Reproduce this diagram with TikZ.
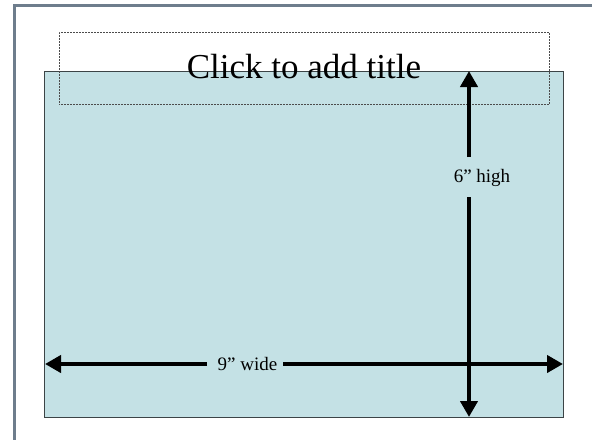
\documentclass[tikz,border=0pt]{standalone}
\usepackage{fontspec}
\setmainfont{Liberation Serif}
\usetikzlibrary{arrows.meta}
\definecolor{framegray}{HTML}{6E7D8C}
\definecolor{slidefill}{HTML}{C4E1E5}
\definecolor{slideedge}{HTML}{3C4446}
\tikzset{
  dimarrow/.style={line width=4pt,-{Triangle[width=17pt,length=16pt]}},
  dimlabel/.style={font=\fontsize{19}{21}\selectfont,inner sep=0pt},
}
\begin{document}
\begin{tikzpicture}[x=1pt,y=-1pt]
\useasboundingbox (0,0) rectangle (592,440);
\fill[white] (0,0) rectangle (592,440);
% window frame (top and left)
\fill[framegray] (13,4) rectangle (592,7);
\fill[framegray] (13,4) rectangle (16,440);
% slide area
\node[draw=slideedge,fill=slidefill,line width=0.8pt,minimum width=519pt,minimum height=346pt,inner sep=0pt,anchor=north west] (slide) at (44,71) {};
% title placeholder
\node[draw=black!70,densely dotted,line width=0.5pt,minimum width=490pt,minimum height=72pt,inner sep=0pt,anchor=north west] (titlebox) at (59,32) {};
\node[anchor=base,inner sep=0pt,font=\fontsize{35}{38}\selectfont] (title) at (304,78) {Click to add title};
% dimension labels
\node[dimlabel,anchor=base] (high) at (482,182) {6” high};
\node[dimlabel,anchor=base] (wide) at (247.5,370) {9” wide};
% coordinates for the arrows
\coordinate (vtopstart) at (469,157);
\coordinate (vtop) at (469,71);
\coordinate (vbotstart) at (469,197);
\coordinate (vbot) at (469,417);
\coordinate (hleftstart) at (207,364);
\coordinate (hleft) at (45,364);
\coordinate (hrightstart) at (283,364);
\coordinate (hright) at (563,364);
\draw[dimarrow] (vtopstart) -- (vtop);
\draw[dimarrow] (vbotstart) -- (vbot);
\draw[dimarrow] (hleftstart) -- (hleft);
\draw[dimarrow] (hrightstart) -- (hright);
\end{tikzpicture}
\end{document}
